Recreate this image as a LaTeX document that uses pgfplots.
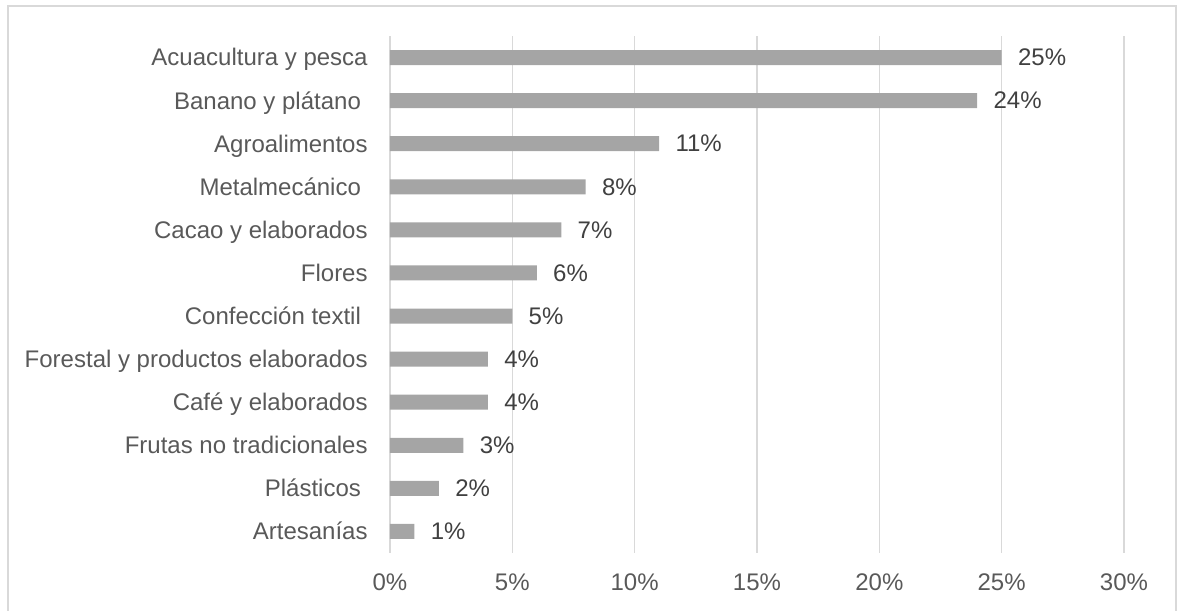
\documentclass[border=0pt]{standalone}
\usepackage{pgfplots}
\pgfplotsset{compat=1.18}
\usepackage{fontspec}
\setmainfont{Liberation Sans}
\definecolor{bargray}{HTML}{A5A5A5}
\definecolor{gridgray}{HTML}{D9D9D9}
\definecolor{ticktext}{HTML}{595959}
\definecolor{labeltext}{HTML}{404040}
\newcommand{\tsp}{\kern0.278em}
\begin{document}
\begin{tikzpicture}
\useasboundingbox (0pt,0pt) rectangle (588.5pt,305pt);
\draw[gridgray, line width=0.6pt] (4pt,-5pt) -- (4pt,302pt) -- (588pt,302pt) -- (588pt,-5pt);
\begin{axis}[
  at={(195pt,28.5pt)}, anchor=south west,
  scale only axis, width=367pt, height=258.5pt,
  xbar, bar width=7.5pt,
  xmin=0, xmax=30, ymin=-0.5, ymax=11.5,
  y dir=reverse,
  /pgf/number format/assume math mode=true,
  xtick={0,5,10,15,20,25,30},
  xticklabels={0\%,5\%,10\%,15\%,20\%,25\%,30\%},
  ytick={0,...,11},
  yticklabels={Acuacultura y pesca,Banano y plátano\tsp,Agroalimentos,Metalmecánico\tsp,Cacao y elaborados,Flores,Confección textil\tsp,Forestal y productos elaborados,Café y elaborados,Frutas no tradicionales,Plásticos\tsp,Artesanías},
  xmajorgrids, ymajorgrids=false,
  major grid style={color=gridgray, line width=0.7pt},
  axis line style={draw=none},
  major tick length=0pt,
  xticklabel style={font=\fontsize{12}{14}\selectfont, text=ticktext, anchor=base, inner sep=0pt, yshift=-18.5pt},
  yticklabel style={font=\fontsize{12}{14}\selectfont, text=ticktext, anchor=base east, inner sep=0pt, xshift=-11pt, yshift=-4.2pt},
  nodes near coords={\pgfmathprintnumber{\pgfplotspointmeta}\%},
  every node near coord/.append style={font=\fontsize{12}{14}\selectfont, text=labeltext, anchor=west, inner sep=0pt, xshift=8pt},
  clip=false,
]
\addplot[fill=bargray, draw=none] coordinates {
(25,0) (24,1) (11,2) (8,3) (7,4) (6,5) (5,6) (4,7) (4,8) (3,9) (2,10) (1,11)
};
\end{axis}
\end{tikzpicture}
\end{document}
